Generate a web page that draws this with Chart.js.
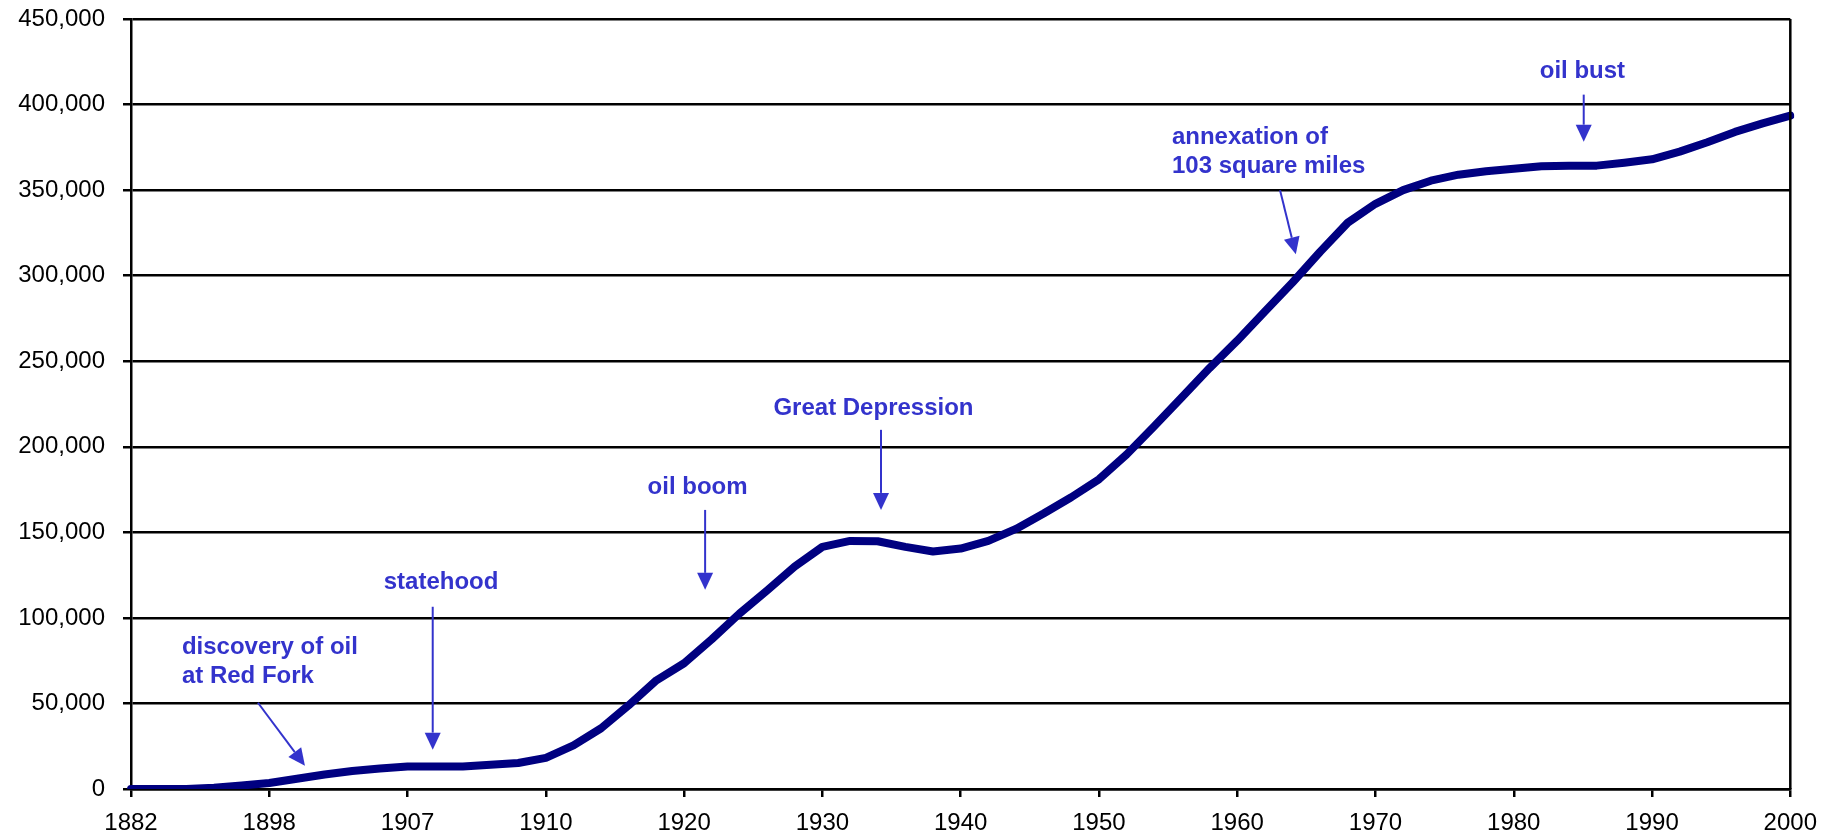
<!DOCTYPE html>
<html lang="en">
<head>
    <meta charset="UTF-8">
    <title>Population Growth 1882-2000</title>
    <script src="https://cdn.jsdelivr.net/npm/chart.js"></script>
    <style>
        html, body { margin: 0; padding: 0; background: #fff; }
        #wrap { width: 1829px; height: 837px; }
    </style>
</head>
<body>

    <div id="wrap"><canvas id="popChart"></canvas></div>

    <script>
        // category labels (only every 5th one is shown on the axis)
        const years = [
            '1882', '', '', '', '',
            '1898', '', '', '', '',
            '1907', '', '', '', '',
            '1910', '', '', '', '',
            '1920', '', '', '', '',
            '1930', '', '', '', '',
            '1940', '', '', '', '',
            '1950', '', '', '', '',
            '1960', '', '', '', '',
            '1970', '', '', '', '',
            '1980', '', '', '', '',
            '1990', '', '', '', '',
            '2000'
        ];

        // population
        const population = [
            0, 0, 0, 800, 2000,
            3500, 6000, 8500, 10500, 12000,
            13200, 13200, 13200, 14200, 15200,
            18200, 25500, 35500, 49000, 63500,
            73500, 87500, 102500, 116000, 130000,
            141500, 145000, 144800, 141500, 138800,
            140500, 145000, 152000, 161000, 170500,
            181000, 195500, 212000, 229000, 246000,
            262000, 279000, 296000, 314000, 331000,
            342000, 350000, 355500, 359000, 361000,
            362500, 364000, 364300, 364300, 366000,
            368000, 372500, 378000, 384000, 389000,
            393500
        ];

        const yTicks = [0, 50000, 100000, 150000, 200000, 250000, 300000, 350000, 400000, 450000];

        // event notes
        const noteText = [
            ['discovery of oil', 'at Red Fork'],
            ['statehood'],
            ['oil boom'],
            ['Great Depression'],
            ['annexation of', '103 square miles'],
            ['oil bust']
        ];

        // where each note sits, in category index / value units
        const notePlace = [
            { x: 1.84, y: 82500, arrow: [4.59, 50400, 6.29, 13600] },
            { x: 9.14, y: 120500, arrow: [10.91, 106500, 10.91, 23000] },
            { x: 18.68, y: 176000, arrow: [20.76, 163100, 20.76, 116400] },
            { x: 23.23, y: 222700, arrow: [27.12, 209900, 27.12, 163100] },
            { x: 37.64, y: 380900, arrow: [41.55, 349900, 42.12, 312500] },
            { x: 50.94, y: 419200, arrow: [52.53, 405800, 52.53, 378300] }
        ];

        const NOTE_COLOR = '#3333CC';

        const notesPlugin = {
            id: 'notes',
            afterDraw(chart) {
                const ctx = chart.ctx;
                const xs = chart.scales.x;
                const ys = chart.scales.y;
                const area = chart.chartArea;

                ctx.save();
                // right edge of plot frame
                ctx.strokeStyle = '#000';
                ctx.lineWidth = 2.5;
                ctx.beginPath();
                ctx.moveTo(area.right, area.top);
                ctx.lineTo(area.right, area.bottom);
                ctx.stroke();

                ctx.font = 'bold 24px "Liberation Sans", Arial, sans-serif';
                ctx.fillStyle = NOTE_COLOR;
                ctx.strokeStyle = NOTE_COLOR;
                ctx.textAlign = 'left';
                ctx.textBaseline = 'middle';

                noteText.forEach((lines, i) => {
                    const p = notePlace[i];
                    const tx = xs.getPixelForValue(p.x);
                    const ty = ys.getPixelForValue(p.y);
                    lines.forEach((t, k) => ctx.fillText(t, tx, ty + k * 29));

                    const [ax, ay, bx, by] = p.arrow;
                    const x1 = xs.getPixelForValue(ax), y1 = ys.getPixelForValue(ay);
                    const x2 = xs.getPixelForValue(bx), y2 = ys.getPixelForValue(by);
                    const ang = Math.atan2(y2 - y1, x2 - x1);
                    const head = 17, half = 8;
                    ctx.lineWidth = 2;
                    ctx.beginPath();
                    ctx.moveTo(x1, y1);
                    ctx.lineTo(x2 - Math.cos(ang) * head, y2 - Math.sin(ang) * head);
                    ctx.stroke();
                    ctx.beginPath();
                    ctx.moveTo(x2, y2);
                    ctx.lineTo(x2 - Math.cos(ang) * head - Math.sin(ang) * half,
                               y2 - Math.sin(ang) * head + Math.cos(ang) * half);
                    ctx.lineTo(x2 - Math.cos(ang) * head + Math.sin(ang) * half,
                               y2 - Math.sin(ang) * head - Math.cos(ang) * half);
                    ctx.closePath();
                    ctx.fill();
                });
                ctx.restore();
            }
        };

        const ctx = document.getElementById('popChart').getContext('2d');
        new Chart(ctx, {
            type: 'line',
            data: {
                labels: years,
                datasets: [{
                    label: 'Population',
                    data: population,
                    borderColor: '#000080',
                    borderWidth: 8,
                    borderJoinStyle: 'round',
                    borderCapStyle: 'round',
                    pointRadius: 0,
                    tension: 0,
                    fill: false
                }]
            },
            options: {
                responsive: true,
                maintainAspectRatio: false,
                animation: false,
                layout: { padding: { top: 19, right: 37, left: 0, bottom: 0 } },
                plugins: {
                    legend: { display: false },
                    tooltip: { enabled: false }
                },
                scales: {
                    x: {
                        offset: false,
                        grid: {
                            display: true,
                            drawOnChartArea: false,
                            drawTicks: true,
                            tickLength: 8,
                            color: '#000',
                            lineWidth: 2.5
                        },
                        border: { display: true, color: '#000', width: 2.5 },
                        ticks: {
                            autoSkip: false,
                            maxRotation: 0,
                            padding: 12,
                            color: '#000',
                            font: { family: '"Liberation Sans", Arial, sans-serif', size: 24 },
                            callback: function (v) {
                                const l = this.getLabelForValue(v);
                                return l === '' ? null : l;
                            }
                        },
                        afterFit(scale) { scale.height = 48; }
                    },
                    y: {
                        min: 0,
                        max: 450000,
                        afterBuildTicks(scale) {
                            scale.ticks = yTicks.map(v => ({ value: v }));
                        },
                        grid: {
                            color: '#000',
                            lineWidth: 2.5,
                            tickLength: 8,
                            drawTicks: true
                        },
                        border: { display: true, color: '#000', width: 2.5 },
                        ticks: {
                            padding: 18,
                            color: '#000',
                            font: { family: '"Liberation Sans", Arial, sans-serif', size: 24 },
                            callback: v => v.toLocaleString('en-US')
                        },
                        afterFit(scale) {
                            scale.width = 131;
                            scale.paddingTop = 12;
                            scale.paddingBottom = 12;
                        }
                    }
                }
            },
            plugins: [notesPlugin]
        });
    </script>

</body>
</html>
